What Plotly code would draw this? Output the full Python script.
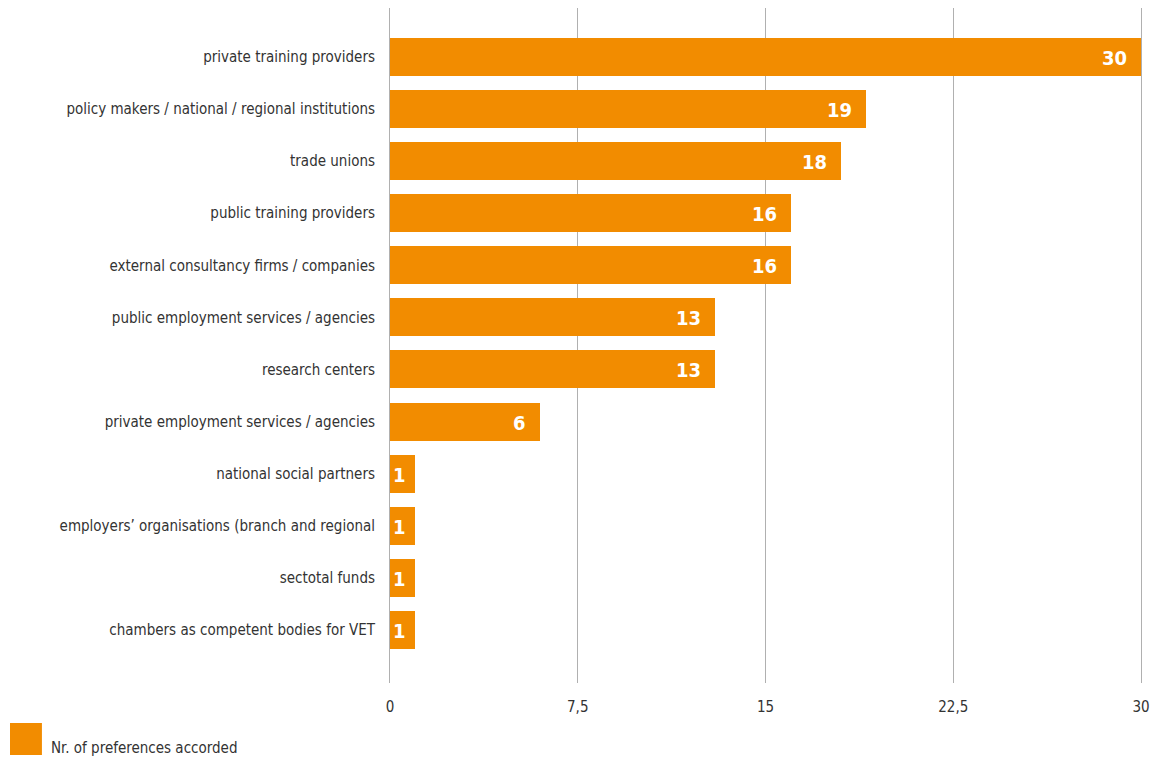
import plotly.graph_objects as go

# Stakeholder categories and number of preferences accorded
categories = [
    "private training providers",
    "policy makers / national / regional institutions",
    "trade unions",
    "public training providers",
    "external consultancy firms / companies",
    "public employment services / agencies",
    "research centers",
    "private employment services / agencies",
    "national social partners",
    "employers’ organisations (branch and regional",
    "sectotal funds",
    "chambers as competent bodies for VET",
]
preferences = [30, 19, 18, 16, 16, 13, 13, 6, 1, 1, 1, 1]

x_tick_vals = [0, 7.5, 15, 22.5, 30]
x_tick_text = ["0", "7,5", "15", "22,5", "30"]

series_name = "Nr. of preferences accorded"

ORANGE = "#F28C00"
GRID = "#b0b0b0"
FONT = "DejaVu Sans Condensed, Roboto, sans-serif"
TEXT = "#333333"
positions = list(range(len(categories)))

# plot area in pixels (used to place the legend swatch in paper coords)
PLOT_L, PLOT_R, PLOT_T, PLOT_B = 390, 1143, 8, 683
PW, PH = PLOT_R - PLOT_L, PLOT_B - PLOT_T

fig = go.Figure()
fig.add_trace(go.Bar(
    x=preferences,
    y=positions,
    orientation="h",
    width=0.73,
    marker=dict(color=ORANGE, line=dict(width=0)),
    name=series_name,
    showlegend=False,
    hoverinfo="x+text",
    hovertext=categories,
))

# value labels inside the end of each bar
for pos, val in zip(positions, preferences):
    fig.add_annotation(
        x=val, y=pos, xref="x", yref="y",
        text=str(val), showarrow=False,
        xanchor="right", xshift=-12 if val > 1 else -7,
        yshift=-1,
        font=dict(family=FONT, size=20, color="white", weight="bold"),
    )

# legend swatch and caption
fig.add_shape(type="rect", xref="paper", yref="paper",
              x0=(9 - PLOT_L) / PW, x1=(41 - PLOT_L) / PW,
              y0=-(755 - PLOT_B) / PH, y1=-(723 - PLOT_B) / PH,
              fillcolor=ORANGE, line=dict(width=0))
fig.add_annotation(xref="paper", yref="paper",
                   x=(48 - PLOT_L) / PW, y=-(748 - PLOT_B) / PH,
                   text=series_name, showarrow=False,
                   xanchor="left", yanchor="middle",
                   font=dict(family=FONT, size=15, color=TEXT))

fig.update_layout(
    width=1158, height=759,
    margin=dict(l=PLOT_L, r=1158 - PLOT_R, t=PLOT_T, b=759 - PLOT_B),
    paper_bgcolor="white",
    plot_bgcolor="white",
    font=dict(family=FONT, size=15, color=TEXT),
    bargap=0,
    xaxis=dict(
        range=[0, 30],
        tickvals=x_tick_vals,
        ticktext=x_tick_text,
        showgrid=True,
        gridcolor=GRID,
        gridwidth=1,
        zeroline=False,
        showline=False,
        ticks="",
        ticklabelstandoff=13,
        tickfont=dict(family=FONT, size=15, color=TEXT),
    ),
    yaxis=dict(
        range=[12.02, -0.94],
        tickvals=positions,
        ticktext=categories,
        showgrid=False,
        zeroline=False,
        showline=True,
        mirror=True,
        linecolor=GRID,
        linewidth=1,
        layer="below traces",
        ticks="",
        ticklabelstandoff=11,
        tickfont=dict(family=FONT, size=15, color=TEXT),
    ),
)

fig.write_html("out.html")
